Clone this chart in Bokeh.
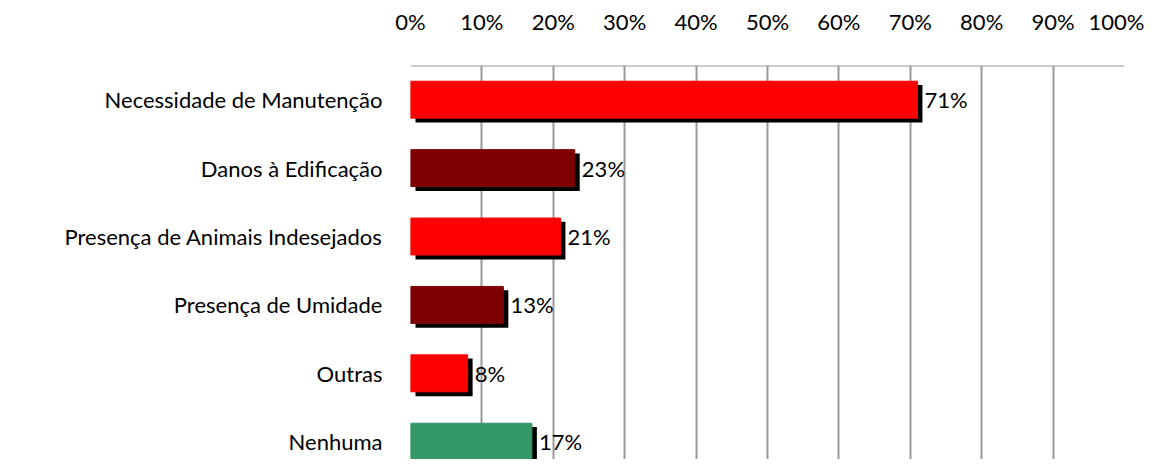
from bokeh.plotting import figure
from bokeh.models import Range1d, FixedTicker, Span, ColumnDataSource, NumeralTickFormatter
from bokeh.core.properties import value
from bokeh.embed import file_html
from bokeh.resources import INLINE

categories = ["Necessidade de Manutenção", "Danos à Edificação", "Presença de Animais Indesejados",
              "Presença de Umidade", "Outras", "Nenhuma"]
values = [71, 23, 21, 13, 8, 17]
colors = ["#FF0000", "#7F0000", "#FF0000", "#7F0000", "#FF0000", "#339966"]
x_ticks = list(range(0, 101, 10))

FONT = "Lato"
idx = list(range(len(categories)))
src = ColumnDataSource(dict(y=idx, v=values, c=colors))

p = figure(width=1144, height=459, output_backend="svg", toolbar_location=None,
           x_range=Range1d(0, 100), y_range=Range1d(5.26, -0.5),
           x_axis_location="above",
           min_border_left=410, min_border_right=20, min_border_top=65, min_border_bottom=0)

# shadow
sx, sy = 0.7, 0.06
p.hbar(y=[i + sy for i in idx], left=sx, right=[v + sx for v in values], height=0.55,
       fill_color="black", line_color=None)
p.hbar(y="y", left=0, right="v", height=0.54, fill_color="c", line_color="c", source=src)
p.text(x=[v + 1.0 for v in values], y=idx, text=[f"{v}%" for v in values],
       text_font=value(FONT), text_font_size="22px", text_baseline="middle",
       text_align="left", text_color="black")

p.outline_line_color = None
p.add_layout(Span(location=-0.5, dimension="width", line_color="#999999", line_width=2))

p.xaxis.ticker = FixedTicker(ticks=x_ticks)
p.xaxis.formatter = NumeralTickFormatter(format="0")
p.xaxis.major_label_overrides = {t: f"{t}%" for t in x_ticks}
p.xaxis.axis_line_color = None
p.xaxis.major_tick_line_color = None
p.xaxis.minor_tick_line_color = None
p.xaxis.major_label_standoff = 25
p.xaxis.major_label_text_font = FONT
p.xaxis.major_label_text_font_size = "22px"
p.xaxis.major_label_text_color = "black"

p.yaxis.ticker = FixedTicker(ticks=idx)
p.yaxis.major_label_overrides = {i: c for i, c in zip(idx, categories)}
p.yaxis.axis_line_color = None
p.yaxis.major_tick_line_color = None
p.yaxis.minor_tick_line_color = None
p.yaxis.major_label_standoff = 22
p.yaxis.major_label_text_font = FONT
p.yaxis.major_label_text_font_size = "22px"
p.yaxis.major_label_text_color = "black"

p.xgrid.ticker = FixedTicker(ticks=x_ticks)
p.xgrid.grid_line_color = "#999999"
p.xgrid.grid_line_width = 2
p.ygrid.grid_line_color = None

open("out.html", "w").write(file_html(p, INLINE))
